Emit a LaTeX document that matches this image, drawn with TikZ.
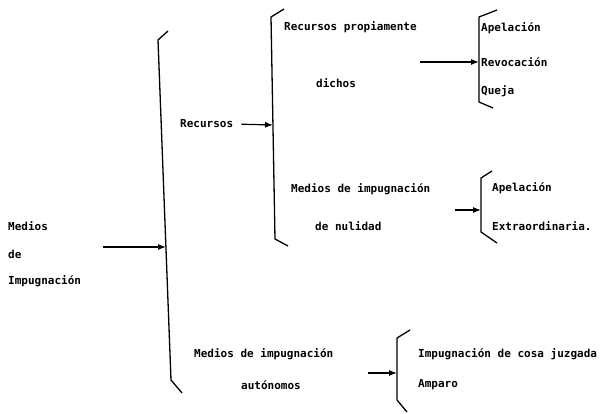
\documentclass[tikz,border=0pt]{standalone}
\usepackage{fontspec}
\setmainfont{DejaVu Sans Mono}
\usetikzlibrary{arrows.meta}
\begin{document}
\begin{tikzpicture}[x=1pt,y=-1pt,
  lbl/.style={anchor=west, inner sep=0pt, font=\fontsize{11}{13}\selectfont\bfseries},
  br/.style={line width=1.3pt, line join=round},
  arr/.style={line width=1.2pt, -{Latex[length=8pt,width=6pt]}}]
\useasboundingbox[fill=white] (0,0) rectangle (604,413);
% brackets
\draw[br] (168,31) -- (158,40) -- (171,380) -- (182,393);
\draw[br] (284,9) -- (271,17) -- (275,239) -- (288,246);
\draw[br] (497,10) -- (479,17) -- (479,102) -- (493,108);
\draw[br] (492,171) -- (481,178) -- (481,232) -- (497,243);
\draw[br] (410,330) -- (397,338) -- (397,400) -- (407,412);
% bracket targets
\coordinate (t1) at (166,247);
\coordinate (t2) at (273,125);
\coordinate (t3) at (479,62);
\coordinate (t4) at (481,210);
\coordinate (t5) at (397,373);
% arrow starts
\coordinate (s1) at (103,247);
\coordinate (s3) at (420,62);
\coordinate (s4) at (455,210);
\coordinate (s5) at (368,373);
% texts
\node[lbl] (m1) at (8,226) {Medios};
\node[lbl] (m2) at (8,254) {de};
\node[lbl] (m3) at (8,281) {Impugnación};
\node[lbl] (rec) at (180,124) {Recursos};
\node[lbl] (rp1) at (284,27) {Recursos propiamente};
\node[lbl] (rp2) at (316,83) {dichos};
\node[lbl] (ap1) at (481,28) {Apelación};
\node[lbl] (rev) at (481,62) {Revocación};
\node[lbl] (que) at (481,91) {Queja};
\node[lbl] (mn1) at (291,189) {Medios de impugnación};
\node[lbl] (mn2) at (315,226) {de nulidad};
\node[lbl] (ap2) at (492,188) {Apelación};
\node[lbl] (ext) at (492,226) {Extraordinaria.};
\node[lbl] (ma1) at (194,354) {Medios de impugnación};
\node[lbl] (ma2) at (241,385) {autónomos};
\node[lbl] (icj) at (418,354) {Impugnación de cosa juzgada};
\node[lbl] (amp) at (418,385) {Amparo};
% arrows
\draw[arr] (s1) -- (t1);
\draw[arr, shorten <=8pt] (rec.east) -- (t2);
\draw[arr] (s3) -- (t3);
\draw[arr] (s4) -- (t4);
\draw[arr] (s5) -- (t5);
\end{tikzpicture}
\end{document}
